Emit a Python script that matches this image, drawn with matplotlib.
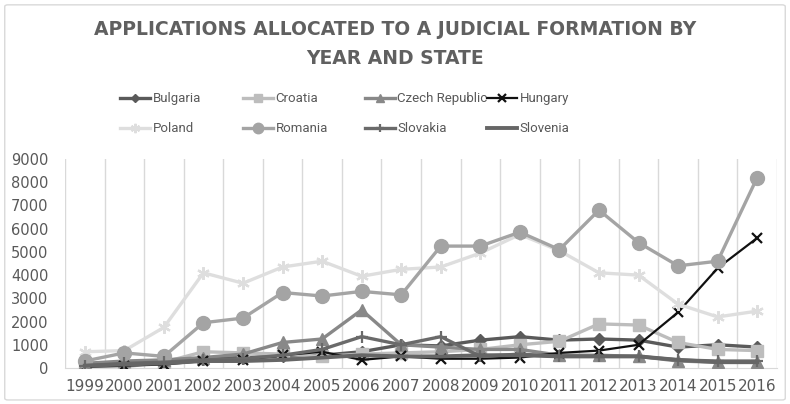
import numpy as np
import matplotlib
matplotlib.use("Agg")
import matplotlib.pyplot as plt
from matplotlib.lines import Line2D
from matplotlib.patches import FancyBboxPatch

years = [str(y) for y in range(1999, 2017)]

bulgaria = [150, 250, 300, 400, 450, 500, 550, 700, 1000, 950, 1200, 1350, 1200, 1250, 1200, 900, 1000, 900]
croatia = [100, 50, 250, 700, 650, 600, 500, 600, 650, 700, 800, 1000, 1150, 1900, 1850, 1100, 800, 750]
czech = [200, 300, 350, 450, 600, 1100, 1250, 2500, 1000, 900, 800, 800, 550, 550, 500, 300, 250, 250]
hungary = [50, 100, 150, 300, 350, 550, 700, 350, 500, 400, 400, 450, 650, 750, 1000, 2400, 4300, 5600]
poland = [700, 750, 1750, 4100, 3650, 4350, 4600, 3950, 4250, 4350, 4950, 5750, 5050, 4100, 4000, 2750, 2200, 2450]
romania = [300, 650, 500, 1950, 2150, 3250, 3100, 3300, 3150, 5250, 5250, 5850, 5100, 6800, 5400, 4400, 4600, 8200]
slovakia = [100, 200, 250, 350, 400, 550, 800, 1350, 1000, 1350, 500, 600, 500, 500, 500, 350, 300, 300]
slovenia = [100, 150, 200, 300, 300, 350, 450, 550, 500, 500, 550, 550, 500, 500, 500, 350, 250, 250]

star = (6, 2, 0)  # six-armed asterisk

# name, values, colour, marker, marker size, line width
series = [
    ("Bulgaria", bulgaria, "#5a5a5a", "D", 6, 2.4),
    ("Croatia", croatia, "#bdbdbd", "s", 8, 2.4),
    ("Czech Republic", czech, "#888888", "^", 8, 2.4),
    ("Hungary", hungary, "#111111", "x", 7, 1.6),
    ("Poland", poland, "#dedede", star, 9, 2.4),
    ("Romania", romania, "#a4a4a4", "o", 10, 2.4),
    ("Slovakia", slovakia, "#6a6a6a", "+", 8, 2.4),
    ("Slovenia", slovenia, "#666666", None, 0, 2.8),
]

def edge_width(mk):
    return 1.6 if mk in ("x", "+", star) else 1

txt = "#595959"
fig = plt.figure(figsize=(7.9, 4.04), dpi=100)
fig.add_artist(FancyBboxPatch((0.006, 0.01), 0.988, 0.978, boxstyle="round,pad=0,rounding_size=0.004",
                              transform=fig.transFigure, facecolor="white", edgecolor="#d9d9d9",
                              lw=1, zorder=-10))

ax = fig.add_axes([0.0823, 0.0891, 0.9012, 0.5173])
ax.patch.set_alpha(0)
x = np.arange(len(years))
for name, vals, col, mk, ms, lw in series:
    ax.plot(x, vals, color=col, marker=mk, markersize=ms, lw=lw,
            markeredgewidth=edge_width(mk), zorder=3)

ax.set_xlim(-0.5, len(years) - 0.5)
ax.set_ylim(0, 9000)
ax.set_yticks(range(0, 9001, 1000))
ax.set_xticks(x)
ax.set_xticklabels(years)
ax.set_xticks(np.arange(-0.5, len(years), 1), minor=True)
ax.grid(which="minor", axis="x", color="#d9d9d9", lw=1)
ax.tick_params(which="both", length=0)
ax.tick_params(axis="x", labelsize=11, colors=txt, pad=8)
ax.tick_params(axis="y", labelsize=10.5, colors=txt, pad=12)
for s in ("top", "right", "left"):
    ax.spines[s].set_visible(False)
ax.spines["bottom"].set_color("#d9d9d9")

fig.text(0.5, 0.926, "APPLICATIONS ALLOCATED TO A JUDICIAL FORMATION BY", ha="center", va="center",
         fontsize=13.5, color="#606060", fontweight="bold", family="DejaVu Sans")
fig.text(0.5, 0.856, "YEAR AND STATE", ha="center", va="center",
         fontsize=13.5, color="#606060", fontweight="bold", family="DejaVu Sans")

# legend laid out as a fixed 4x2 grid
col_x = [120, 243, 365, 487]
for i, (name, vals, col, mk, ms, lw) in enumerate(series):
    c, r = i % 4, i // 4
    x0 = col_x[c] / 790
    y0 = 0.757 - r * 0.074
    fig.add_artist(Line2D([x0, x0 + 0.038], [y0, y0], transform=fig.transFigure,
                          color=col, lw=lw, marker=None))
    if mk:
        fig.add_artist(Line2D([x0 + 0.019], [y0], transform=fig.transFigure, color=col,
                              marker=mk, markersize=ms * 0.75,
                              markeredgewidth=edge_width(mk), lw=0))
    fig.text(x0 + 0.041, y0, name, va="center", ha="left", fontsize=9.5, color=txt,
             family="Roboto")

fig.savefig("out.png", dpi=100)
